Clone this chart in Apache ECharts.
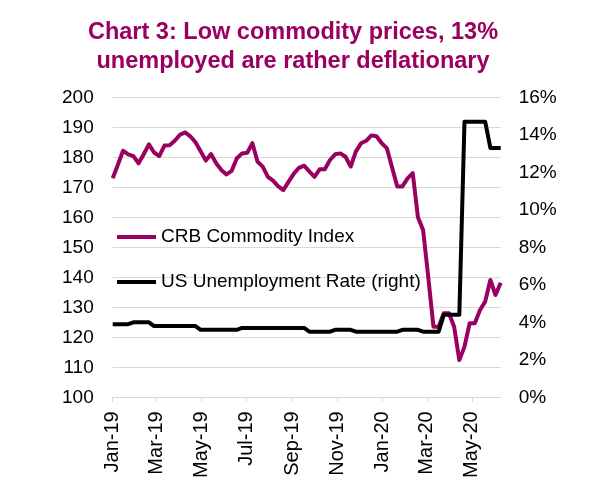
<!DOCTYPE html>
<html><head><meta charset="utf-8">
<script src="https://cdn.jsdelivr.net/npm/echarts@6/dist/echarts.min.js"></script>
<style>html,body{margin:0;padding:0;background:#fff}#c{width:607px;height:492px}</style>
</head><body><div id="c"></div>
<script>
// ---- data ----
const firstDay = '2019-01-04';
const lastDay = '2020-06-12';
const crbValues = [
  173, 177.5, 182.2, 181, 180.4, 178, 181, 184.3, 181.6, 180.4,
  183.9, 184, 185.5, 187.5, 188.3, 187, 185, 182, 178.9, 181.1,
  178, 175.8, 174.3, 175.5, 179.7, 181.3, 181.5, 184.7, 178.5, 176.9,
  173.5, 172.2, 170.3, 169.1, 171.9, 174.5, 176.5, 177.2, 175.3, 173.5,
  176, 176, 179.1, 181, 181.3, 180.2, 176.9, 181.9, 184.7, 185.5,
  187.3, 187, 184.7, 183, 176.6, 170.3, 170.3, 173, 174.7, 160,
  155.8, 140, 123.5, 123.5, 128, 128, 123.5, 112.4, 116.9, 124.7,
  124.7, 129.1, 131.9, 139.1, 134.1, 138.2
];
const unempValues = [
  3.9, 3.9, 3.9, 3.9, 4.0, 4.0, 4.0, 4.0, 3.8, 3.8,
  3.8, 3.8, 3.8, 3.8, 3.8, 3.8, 3.8, 3.6, 3.6, 3.6,
  3.6, 3.6, 3.6, 3.6, 3.6, 3.7, 3.7, 3.7, 3.7, 3.7,
  3.7, 3.7, 3.7, 3.7, 3.7, 3.7, 3.7, 3.7, 3.5, 3.5,
  3.5, 3.5, 3.5, 3.6, 3.6, 3.6, 3.6, 3.5, 3.5, 3.5,
  3.5, 3.5, 3.5, 3.5, 3.5, 3.5, 3.6, 3.6, 3.6, 3.6,
  3.5, 3.5, 3.5, 3.5, 4.4, 4.4, 4.4, 4.4, 14.7, 14.7,
  14.7, 14.7, 14.7, 13.3, 13.3, 13.3
];
const tickDates = ['2019-01-04','2019-03-04','2019-05-04','2019-07-04','2019-09-04','2019-11-04','2020-01-04','2020-03-04','2020-05-04'];
const tickLabels = ['Jan-19','Mar-19','May-19','Jul-19','Sep-19','Nov-19','Jan-20','Mar-20','May-20'];
const leftTicks = {min: 100, max: 200, step: 10};
const rightTicks = {min: 0, max: 16, step: 2};
const seriesNames = ['CRB Commodity Index', 'US Unemployment Rate (right)'];
const titleLines = ['Chart 3: Low commodity prices, 13%', 'unemployed are rather deflationary'];

// ---- build daily axis & weekly series ----
const DAY = 86400000;
const days = [];
for (let t = Date.parse(firstDay); t <= Date.parse(lastDay); t += DAY) {
  days.push(new Date(t).toISOString().slice(0, 10));
}
const weekDates = crbValues.map((_, k) => new Date(Date.parse(firstDay) + k * 7 * DAY).toISOString().slice(0, 10));
const crbData = crbValues.map((v, k) => [days.indexOf(weekDates[k]), v]);
const unempData = unempValues.map((v, k) => [days.indexOf(weekDates[k]), v]);
const tickMap = {};
tickDates.forEach((d, i) => tickMap[d] = tickLabels[i]);

const FONT = 'Liberation Sans, Arial, sans-serif';
const PURPLE = '#990060';

const chart = echarts.init(document.getElementById('c'), null, {renderer: 'canvas'});
chart.setOption({
  animation: false,
  backgroundColor: '#fff',
  textStyle: {fontFamily: FONT},
  title: {
    text: titleLines.join('\n'),
    left: 288, textAlign: 'center', top: 13,
    textStyle: {fontFamily: FONT, fontSize: 23.5, fontWeight: 'bold', color: PURPLE, lineHeight: 29}
  },
  legend: {
    orient: 'vertical', left: 112, top: 221, itemGap: 23,
    itemWidth: 39, itemHeight: 4, icon: 'rect',
    textStyle: {fontFamily: FONT, fontSize: 19, color: '#000', lineHeight: 22},
    data: seriesNames
  },
  grid: {left: 112.7, right: 106.3, top: 97.3, bottom: 94.7, containLabel: false},
  xAxis: {
    type: 'category', data: days, boundaryGap: false,
    axisLine: {show: true, lineStyle: {color: '#d9d9d9', width: 1}},
    axisTick: {show: true, length: 5, lineStyle: {color: '#d9d9d9'}, interval: (i, v) => v in tickMap},
    axisLabel: {
      interval: (i, v) => v in tickMap, rotate: 90, margin: 14,
      fontFamily: FONT, fontSize: 20, color: '#000',
      formatter: v => tickMap[v] || ''
    },
    splitLine: {show: false}
  },
  yAxis: [{
    type: 'value', min: leftTicks.min, max: leftTicks.max, interval: leftTicks.step,
    axisLine: {show: false}, axisTick: {show: false},
    axisLabel: {margin: 19, fontFamily: FONT, fontSize: 19, color: '#000'},
    splitLine: {show: true, lineStyle: {color: '#d9d9d9', width: 1}}
  }, {
    type: 'value', min: rightTicks.min, max: rightTicks.max, interval: rightTicks.step,
    axisLine: {show: false}, axisTick: {show: false},
    axisLabel: {margin: 18, fontFamily: FONT, fontSize: 19, color: '#000', formatter: '{value}%'},
    splitLine: {show: false}
  }],
  series: [{
    name: seriesNames[0], type: 'line', yAxisIndex: 0, data: crbData,
    showSymbol: false, symbol: 'none', connectNulls: true,
    itemStyle: {color: PURPLE},
    lineStyle: {color: PURPLE, width: 4, join: 'round'}
  }, {
    name: seriesNames[1], type: 'line', yAxisIndex: 1, data: unempData,
    showSymbol: false, symbol: 'none', connectNulls: true,
    itemStyle: {color: '#000'},
    lineStyle: {color: '#000', width: 4, join: 'round'}
  }]
});
</script></body></html>
